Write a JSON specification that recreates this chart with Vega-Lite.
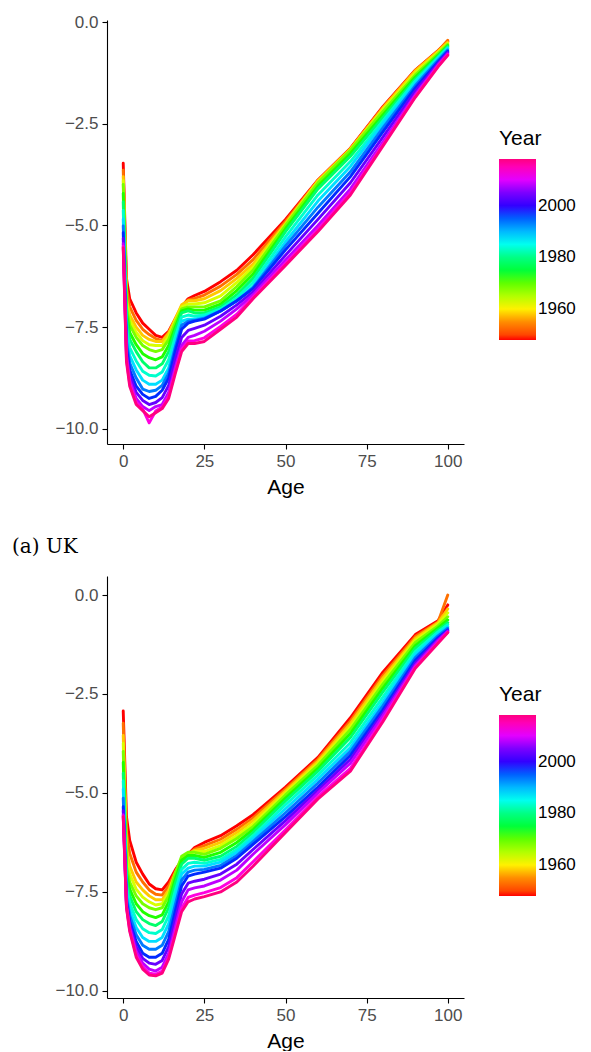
{
"$schema":"https://vega.github.io/schema/vega-lite/v6.json",
"background":"white",
"padding":{"left":12,"top":13,"right":5,"bottom":0},
"spacing":40,
"config":{
"view":{"stroke":null},
"axis":{"grid":false,"domainColor":"black","domainWidth":1.1,"tickColor":"black","tickWidth":1.1,"tickSize":5,"labelFont":"Liberation Sans","labelFontSize":17,"labelColor":"#4D4D4D","labelPadding":4,"titleFont":"Liberation Sans","titleFontSize":21,"titleFontWeight":"normal","titleColor":"black","titlePadding":7},
"legend":{"gradientLength":181,"gradientThickness":37,"gradientStrokeWidth":0,"titleFont":"Liberation Sans","titleFontSize":21,"titleFontWeight":"normal","titleColor":"black","titlePadding":10,"labelFont":"Liberation Sans","labelFontSize":17,"labelColor":"black","labelOffset":11}
},
"datasets":{
"uk":[
{"y":1948,"a":0,"v":-3.47},{"y":1948,"a":1,"v":-6.30},{"y":1948,"a":2,"v":-6.80},{"y":1948,"a":4,"v":-7.15},{"y":1948,"a":6,"v":-7.40},{"y":1948,"a":8,"v":-7.55},{"y":1948,"a":10,"v":-7.70},{"y":1948,"a":12,"v":-7.75},{"y":1948,"a":14,"v":-7.60},{"y":1948,"a":16,"v":-7.30},{"y":1948,"a":18,"v":-7.00},{"y":1948,"a":20,"v":-6.80},{"y":1948,"a":22,"v":-6.72},{"y":1948,"a":25,"v":-6.62},{"y":1948,"a":30,"v":-6.38},{"y":1948,"a":35,"v":-6.10},{"y":1948,"a":40,"v":-5.72},{"y":1948,"a":50,"v":-4.85},{"y":1948,"a":60,"v":-3.88},{"y":1948,"a":70,"v":-3.10},{"y":1948,"a":80,"v":-2.08},{"y":1948,"a":90,"v":-1.18},{"y":1948,"a":97,"v":-0.70},{"y":1948,"a":100,"v":-0.48},
{"y":1953,"a":0,"v":-3.64},{"y":1953,"a":1,"v":-6.55},{"y":1953,"a":2,"v":-7.00},{"y":1953,"a":4,"v":-7.33},{"y":1953,"a":6,"v":-7.55},{"y":1953,"a":8,"v":-7.68},{"y":1953,"a":10,"v":-7.78},{"y":1953,"a":12,"v":-7.83},{"y":1953,"a":14,"v":-7.63},{"y":1953,"a":16,"v":-7.30},{"y":1953,"a":18,"v":-6.98},{"y":1953,"a":20,"v":-6.83},{"y":1953,"a":22,"v":-6.79},{"y":1953,"a":25,"v":-6.71},{"y":1953,"a":30,"v":-6.49},{"y":1953,"a":35,"v":-6.20},{"y":1953,"a":40,"v":-5.84},{"y":1953,"a":50,"v":-4.90},{"y":1953,"a":60,"v":-3.89},{"y":1953,"a":70,"v":-3.11},{"y":1953,"a":80,"v":-2.10},{"y":1953,"a":90,"v":-1.19},{"y":1953,"a":97,"v":-0.71},{"y":1953,"a":100,"v":-0.45},
{"y":1958,"a":0,"v":-3.80},{"y":1958,"a":1,"v":-6.80},{"y":1958,"a":2,"v":-7.20},{"y":1958,"a":4,"v":-7.50},{"y":1958,"a":6,"v":-7.70},{"y":1958,"a":8,"v":-7.80},{"y":1958,"a":10,"v":-7.85},{"y":1958,"a":12,"v":-7.85},{"y":1958,"a":14,"v":-7.65},{"y":1958,"a":16,"v":-7.30},{"y":1958,"a":18,"v":-6.95},{"y":1958,"a":20,"v":-6.85},{"y":1958,"a":22,"v":-6.85},{"y":1958,"a":25,"v":-6.80},{"y":1958,"a":30,"v":-6.60},{"y":1958,"a":35,"v":-6.30},{"y":1958,"a":40,"v":-5.95},{"y":1958,"a":50,"v":-4.95},{"y":1958,"a":60,"v":-3.90},{"y":1958,"a":70,"v":-3.12},{"y":1958,"a":80,"v":-2.12},{"y":1958,"a":90,"v":-1.20},{"y":1958,"a":97,"v":-0.72},{"y":1958,"a":100,"v":-0.50},
{"y":1963,"a":0,"v":-3.90},{"y":1963,"a":1,"v":-6.90},{"y":1963,"a":2,"v":-7.33},{"y":1963,"a":4,"v":-7.63},{"y":1963,"a":6,"v":-7.83},{"y":1963,"a":8,"v":-7.93},{"y":1963,"a":10,"v":-7.95},{"y":1963,"a":12,"v":-7.95},{"y":1963,"a":14,"v":-7.73},{"y":1963,"a":16,"v":-7.35},{"y":1963,"a":18,"v":-7.00},{"y":1963,"a":20,"v":-6.93},{"y":1963,"a":22,"v":-6.93},{"y":1963,"a":25,"v":-6.90},{"y":1963,"a":30,"v":-6.73},{"y":1963,"a":35,"v":-6.40},{"y":1963,"a":40,"v":-6.03},{"y":1963,"a":50,"v":-4.98},{"y":1963,"a":60,"v":-3.93},{"y":1963,"a":70,"v":-3.14},{"y":1963,"a":80,"v":-2.16},{"y":1963,"a":90,"v":-1.25},{"y":1963,"a":97,"v":-0.75},{"y":1963,"a":100,"v":-0.53},
{"y":1968,"a":0,"v":-3.99},{"y":1968,"a":1,"v":-7.00},{"y":1968,"a":2,"v":-7.45},{"y":1968,"a":4,"v":-7.75},{"y":1968,"a":6,"v":-7.95},{"y":1968,"a":8,"v":-8.05},{"y":1968,"a":10,"v":-8.10},{"y":1968,"a":12,"v":-8.05},{"y":1968,"a":14,"v":-7.80},{"y":1968,"a":16,"v":-7.40},{"y":1968,"a":18,"v":-7.05},{"y":1968,"a":20,"v":-7.00},{"y":1968,"a":22,"v":-7.00},{"y":1968,"a":25,"v":-7.00},{"y":1968,"a":30,"v":-6.85},{"y":1968,"a":35,"v":-6.50},{"y":1968,"a":40,"v":-6.10},{"y":1968,"a":50,"v":-5.00},{"y":1968,"a":60,"v":-3.95},{"y":1968,"a":70,"v":-3.15},{"y":1968,"a":80,"v":-2.20},{"y":1968,"a":90,"v":-1.30},{"y":1968,"a":97,"v":-0.78},{"y":1968,"a":100,"v":-0.55},
{"y":1973,"a":0,"v":-4.21},{"y":1973,"a":1,"v":-7.15},{"y":1973,"a":2,"v":-7.63},{"y":1973,"a":4,"v":-7.93},{"y":1973,"a":6,"v":-8.15},{"y":1973,"a":8,"v":-8.25},{"y":1973,"a":10,"v":-8.30},{"y":1973,"a":12,"v":-8.23},{"y":1973,"a":14,"v":-7.95},{"y":1973,"a":16,"v":-7.50},{"y":1973,"a":18,"v":-7.10},{"y":1973,"a":20,"v":-7.05},{"y":1973,"a":22,"v":-7.08},{"y":1973,"a":25,"v":-7.08},{"y":1973,"a":30,"v":-6.93},{"y":1973,"a":35,"v":-6.60},{"y":1973,"a":40,"v":-6.20},{"y":1973,"a":50,"v":-5.08},{"y":1973,"a":60,"v":-4.03},{"y":1973,"a":70,"v":-3.23},{"y":1973,"a":80,"v":-2.28},{"y":1973,"a":90,"v":-1.35},{"y":1973,"a":97,"v":-0.82},{"y":1973,"a":100,"v":-0.58},
{"y":1978,"a":0,"v":-4.42},{"y":1978,"a":1,"v":-7.30},{"y":1978,"a":2,"v":-7.80},{"y":1978,"a":4,"v":-8.10},{"y":1978,"a":6,"v":-8.35},{"y":1978,"a":8,"v":-8.50},{"y":1978,"a":10,"v":-8.50},{"y":1978,"a":12,"v":-8.40},{"y":1978,"a":14,"v":-8.10},{"y":1978,"a":16,"v":-7.60},{"y":1978,"a":18,"v":-7.15},{"y":1978,"a":20,"v":-7.10},{"y":1978,"a":22,"v":-7.15},{"y":1978,"a":25,"v":-7.15},{"y":1978,"a":30,"v":-7.00},{"y":1978,"a":35,"v":-6.70},{"y":1978,"a":40,"v":-6.30},{"y":1978,"a":50,"v":-5.15},{"y":1978,"a":60,"v":-4.10},{"y":1978,"a":70,"v":-3.30},{"y":1978,"a":80,"v":-2.35},{"y":1978,"a":90,"v":-1.40},{"y":1978,"a":97,"v":-0.85},{"y":1978,"a":100,"v":-0.60},
{"y":1983,"a":0,"v":-4.63},{"y":1983,"a":1,"v":-7.50},{"y":1983,"a":2,"v":-8.00},{"y":1983,"a":4,"v":-8.33},{"y":1983,"a":6,"v":-8.58},{"y":1983,"a":8,"v":-8.68},{"y":1983,"a":10,"v":-8.70},{"y":1983,"a":12,"v":-8.60},{"y":1983,"a":14,"v":-8.30},{"y":1983,"a":16,"v":-7.75},{"y":1983,"a":18,"v":-7.25},{"y":1983,"a":20,"v":-7.20},{"y":1983,"a":22,"v":-7.23},{"y":1983,"a":25,"v":-7.20},{"y":1983,"a":30,"v":-7.05},{"y":1983,"a":35,"v":-6.78},{"y":1983,"a":40,"v":-6.40},{"y":1983,"a":50,"v":-5.28},{"y":1983,"a":60,"v":-4.25},{"y":1983,"a":70,"v":-3.43},{"y":1983,"a":80,"v":-2.43},{"y":1983,"a":90,"v":-1.45},{"y":1983,"a":97,"v":-0.88},{"y":1983,"a":100,"v":-0.63},
{"y":1988,"a":0,"v":-4.84},{"y":1988,"a":1,"v":-7.70},{"y":1988,"a":2,"v":-8.20},{"y":1988,"a":4,"v":-8.55},{"y":1988,"a":6,"v":-8.80},{"y":1988,"a":8,"v":-8.90},{"y":1988,"a":10,"v":-8.90},{"y":1988,"a":12,"v":-8.80},{"y":1988,"a":14,"v":-8.50},{"y":1988,"a":16,"v":-7.90},{"y":1988,"a":18,"v":-7.35},{"y":1988,"a":20,"v":-7.30},{"y":1988,"a":22,"v":-7.30},{"y":1988,"a":25,"v":-7.25},{"y":1988,"a":30,"v":-7.10},{"y":1988,"a":35,"v":-6.85},{"y":1988,"a":40,"v":-6.50},{"y":1988,"a":50,"v":-5.40},{"y":1988,"a":60,"v":-4.40},{"y":1988,"a":70,"v":-3.55},{"y":1988,"a":80,"v":-2.50},{"y":1988,"a":90,"v":-1.50},{"y":1988,"a":97,"v":-0.90},{"y":1988,"a":100,"v":-0.65},
{"y":1993,"a":0,"v":-5.01},{"y":1993,"a":1,"v":-7.85},{"y":1993,"a":2,"v":-8.38},{"y":1993,"a":4,"v":-8.75},{"y":1993,"a":6,"v":-9.02},{"y":1993,"a":8,"v":-9.08},{"y":1993,"a":10,"v":-9.05},{"y":1993,"a":12,"v":-8.93},{"y":1993,"a":14,"v":-8.63},{"y":1993,"a":16,"v":-8.00},{"y":1993,"a":18,"v":-7.45},{"y":1993,"a":20,"v":-7.35},{"y":1993,"a":22,"v":-7.33},{"y":1993,"a":25,"v":-7.28},{"y":1993,"a":30,"v":-7.10},{"y":1993,"a":35,"v":-6.85},{"y":1993,"a":40,"v":-6.53},{"y":1993,"a":50,"v":-5.50},{"y":1993,"a":60,"v":-4.55},{"y":1993,"a":70,"v":-3.68},{"y":1993,"a":80,"v":-2.60},{"y":1993,"a":90,"v":-1.56},{"y":1993,"a":97,"v":-0.94},{"y":1993,"a":100,"v":-0.69},
{"y":1998,"a":0,"v":-5.18},{"y":1998,"a":1,"v":-8.00},{"y":1998,"a":2,"v":-8.55},{"y":1998,"a":4,"v":-8.95},{"y":1998,"a":6,"v":-9.15},{"y":1998,"a":8,"v":-9.25},{"y":1998,"a":10,"v":-9.20},{"y":1998,"a":12,"v":-9.05},{"y":1998,"a":14,"v":-8.75},{"y":1998,"a":16,"v":-8.10},{"y":1998,"a":18,"v":-7.55},{"y":1998,"a":20,"v":-7.40},{"y":1998,"a":22,"v":-7.35},{"y":1998,"a":25,"v":-7.30},{"y":1998,"a":30,"v":-7.10},{"y":1998,"a":35,"v":-6.85},{"y":1998,"a":40,"v":-6.55},{"y":1998,"a":50,"v":-5.60},{"y":1998,"a":60,"v":-4.70},{"y":1998,"a":70,"v":-3.80},{"y":1998,"a":80,"v":-2.70},{"y":1998,"a":90,"v":-1.62},{"y":1998,"a":97,"v":-0.98},{"y":1998,"a":100,"v":-0.72},
{"y":2003,"a":0,"v":-5.32},{"y":2003,"a":1,"v":-8.10},{"y":2003,"a":2,"v":-8.68},{"y":2003,"a":4,"v":-9.10},{"y":2003,"a":6,"v":-9.30},{"y":2003,"a":8,"v":-9.40},{"y":2003,"a":10,"v":-9.35},{"y":2003,"a":12,"v":-9.23},{"y":2003,"a":14,"v":-8.93},{"y":2003,"a":16,"v":-8.30},{"y":2003,"a":18,"v":-7.75},{"y":2003,"a":20,"v":-7.58},{"y":2003,"a":22,"v":-7.53},{"y":2003,"a":25,"v":-7.45},{"y":2003,"a":30,"v":-7.23},{"y":2003,"a":35,"v":-6.95},{"y":2003,"a":40,"v":-6.63},{"y":2003,"a":50,"v":-5.73},{"y":2003,"a":60,"v":-4.85},{"y":2003,"a":70,"v":-3.95},{"y":2003,"a":80,"v":-2.83},{"y":2003,"a":90,"v":-1.70},{"y":2003,"a":97,"v":-1.02},{"y":2003,"a":100,"v":-0.75},
{"y":2008,"a":0,"v":-5.45},{"y":2008,"a":1,"v":-8.20},{"y":2008,"a":2,"v":-8.80},{"y":2008,"a":4,"v":-9.25},{"y":2008,"a":6,"v":-9.45},{"y":2008,"a":8,"v":-9.55},{"y":2008,"a":10,"v":-9.45},{"y":2008,"a":12,"v":-9.40},{"y":2008,"a":14,"v":-9.10},{"y":2008,"a":16,"v":-8.50},{"y":2008,"a":18,"v":-7.95},{"y":2008,"a":20,"v":-7.75},{"y":2008,"a":22,"v":-7.70},{"y":2008,"a":25,"v":-7.60},{"y":2008,"a":30,"v":-7.35},{"y":2008,"a":35,"v":-7.05},{"y":2008,"a":40,"v":-6.70},{"y":2008,"a":50,"v":-5.85},{"y":2008,"a":60,"v":-5.00},{"y":2008,"a":70,"v":-4.10},{"y":2008,"a":80,"v":-2.95},{"y":2008,"a":90,"v":-1.78},{"y":2008,"a":97,"v":-1.05},{"y":2008,"a":100,"v":-0.78},
{"y":2013,"a":0,"v":-5.51},{"y":2013,"a":1,"v":-8.29},{"y":2013,"a":2,"v":-8.89},{"y":2013,"a":4,"v":-9.34},{"y":2013,"a":6,"v":-9.51},{"y":2013,"a":8,"v":-9.85},{"y":2013,"a":10,"v":-9.56},{"y":2013,"a":12,"v":-9.46},{"y":2013,"a":14,"v":-9.19},{"y":2013,"a":16,"v":-8.59},{"y":2013,"a":18,"v":-8.04},{"y":2013,"a":20,"v":-7.84},{"y":2013,"a":22,"v":-7.83},{"y":2013,"a":25,"v":-7.76},{"y":2013,"a":30,"v":-7.48},{"y":2013,"a":35,"v":-7.18},{"y":2013,"a":40,"v":-6.76},{"y":2013,"a":50,"v":-5.93},{"y":2013,"a":60,"v":-5.09},{"y":2013,"a":70,"v":-4.19},{"y":2013,"a":80,"v":-3.01},{"y":2013,"a":90,"v":-1.82},{"y":2013,"a":97,"v":-1.08},{"y":2013,"a":100,"v":-0.80},
{"y":2018,"a":0,"v":-5.55},{"y":2018,"a":1,"v":-8.35},{"y":2018,"a":2,"v":-8.95},{"y":2018,"a":4,"v":-9.40},{"y":2018,"a":6,"v":-9.55},{"y":2018,"a":8,"v":-9.70},{"y":2018,"a":10,"v":-9.60},{"y":2018,"a":12,"v":-9.50},{"y":2018,"a":14,"v":-9.25},{"y":2018,"a":16,"v":-8.65},{"y":2018,"a":18,"v":-8.10},{"y":2018,"a":20,"v":-7.90},{"y":2018,"a":22,"v":-7.90},{"y":2018,"a":25,"v":-7.85},{"y":2018,"a":30,"v":-7.55},{"y":2018,"a":35,"v":-7.25},{"y":2018,"a":40,"v":-6.80},{"y":2018,"a":50,"v":-5.98},{"y":2018,"a":60,"v":-5.15},{"y":2018,"a":70,"v":-4.25},{"y":2018,"a":80,"v":-3.05},{"y":2018,"a":90,"v":-1.85},{"y":2018,"a":97,"v":-1.10},{"y":2018,"a":100,"v":-0.82}
],
"fr":[
{"y":1948,"a":0,"v":-2.93},{"y":1948,"a":1,"v":-5.60},{"y":1948,"a":2,"v":-6.20},{"y":1948,"a":4,"v":-6.75},{"y":1948,"a":6,"v":-7.05},{"y":1948,"a":8,"v":-7.30},{"y":1948,"a":10,"v":-7.42},{"y":1948,"a":12,"v":-7.45},{"y":1948,"a":14,"v":-7.25},{"y":1948,"a":16,"v":-6.95},{"y":1948,"a":18,"v":-6.70},{"y":1948,"a":20,"v":-6.55},{"y":1948,"a":22,"v":-6.38},{"y":1948,"a":25,"v":-6.25},{"y":1948,"a":30,"v":-6.08},{"y":1948,"a":35,"v":-5.83},{"y":1948,"a":40,"v":-5.55},{"y":1948,"a":50,"v":-4.85},{"y":1948,"a":60,"v":-4.10},{"y":1948,"a":70,"v":-3.10},{"y":1948,"a":80,"v":-1.95},{"y":1948,"a":90,"v":-1.00},{"y":1948,"a":97,"v":-0.65},{"y":1948,"a":100,"v":-0.25},
{"y":1953,"a":0,"v":-3.24},{"y":1953,"a":1,"v":-6.00},{"y":1953,"a":2,"v":-6.53},{"y":1953,"a":4,"v":-7.00},{"y":1953,"a":6,"v":-7.25},{"y":1953,"a":8,"v":-7.45},{"y":1953,"a":10,"v":-7.56},{"y":1953,"a":12,"v":-7.58},{"y":1953,"a":14,"v":-7.35},{"y":1953,"a":16,"v":-7.00},{"y":1953,"a":18,"v":-6.70},{"y":1953,"a":20,"v":-6.55},{"y":1953,"a":22,"v":-6.42},{"y":1953,"a":25,"v":-6.33},{"y":1953,"a":30,"v":-6.17},{"y":1953,"a":35,"v":-5.92},{"y":1953,"a":40,"v":-5.63},{"y":1953,"a":50,"v":-4.90},{"y":1953,"a":60,"v":-4.15},{"y":1953,"a":70,"v":-3.18},{"y":1953,"a":80,"v":-2.03},{"y":1953,"a":90,"v":-1.05},{"y":1953,"a":97,"v":-0.68},{"y":1953,"a":100,"v":0.00},
{"y":1958,"a":0,"v":-3.55},{"y":1958,"a":1,"v":-6.40},{"y":1958,"a":2,"v":-6.85},{"y":1958,"a":4,"v":-7.25},{"y":1958,"a":6,"v":-7.45},{"y":1958,"a":8,"v":-7.60},{"y":1958,"a":10,"v":-7.70},{"y":1958,"a":12,"v":-7.70},{"y":1958,"a":14,"v":-7.45},{"y":1958,"a":16,"v":-7.05},{"y":1958,"a":18,"v":-6.70},{"y":1958,"a":20,"v":-6.55},{"y":1958,"a":22,"v":-6.45},{"y":1958,"a":25,"v":-6.40},{"y":1958,"a":30,"v":-6.25},{"y":1958,"a":35,"v":-6.00},{"y":1958,"a":40,"v":-5.70},{"y":1958,"a":50,"v":-4.95},{"y":1958,"a":60,"v":-4.20},{"y":1958,"a":70,"v":-3.25},{"y":1958,"a":80,"v":-2.10},{"y":1958,"a":90,"v":-1.10},{"y":1958,"a":97,"v":-0.70},{"y":1958,"a":100,"v":-0.35},
{"y":1963,"a":0,"v":-3.75},{"y":1963,"a":1,"v":-6.63},{"y":1963,"a":2,"v":-7.05},{"y":1963,"a":4,"v":-7.43},{"y":1963,"a":6,"v":-7.63},{"y":1963,"a":8,"v":-7.75},{"y":1963,"a":10,"v":-7.83},{"y":1963,"a":12,"v":-7.80},{"y":1963,"a":14,"v":-7.53},{"y":1963,"a":16,"v":-7.05},{"y":1963,"a":18,"v":-6.65},{"y":1963,"a":20,"v":-6.53},{"y":1963,"a":22,"v":-6.48},{"y":1963,"a":25,"v":-6.48},{"y":1963,"a":30,"v":-6.33},{"y":1963,"a":35,"v":-6.08},{"y":1963,"a":40,"v":-5.78},{"y":1963,"a":50,"v":-5.00},{"y":1963,"a":60,"v":-4.25},{"y":1963,"a":70,"v":-3.33},{"y":1963,"a":80,"v":-2.18},{"y":1963,"a":90,"v":-1.15},{"y":1963,"a":97,"v":-0.74},{"y":1963,"a":100,"v":-0.45},
{"y":1968,"a":0,"v":-3.95},{"y":1968,"a":1,"v":-6.85},{"y":1968,"a":2,"v":-7.25},{"y":1968,"a":4,"v":-7.60},{"y":1968,"a":6,"v":-7.80},{"y":1968,"a":8,"v":-7.90},{"y":1968,"a":10,"v":-7.95},{"y":1968,"a":12,"v":-7.90},{"y":1968,"a":14,"v":-7.60},{"y":1968,"a":16,"v":-7.05},{"y":1968,"a":18,"v":-6.60},{"y":1968,"a":20,"v":-6.50},{"y":1968,"a":22,"v":-6.50},{"y":1968,"a":25,"v":-6.55},{"y":1968,"a":30,"v":-6.40},{"y":1968,"a":35,"v":-6.15},{"y":1968,"a":40,"v":-5.85},{"y":1968,"a":50,"v":-5.05},{"y":1968,"a":60,"v":-4.30},{"y":1968,"a":70,"v":-3.40},{"y":1968,"a":80,"v":-2.25},{"y":1968,"a":90,"v":-1.20},{"y":1968,"a":97,"v":-0.78},{"y":1968,"a":100,"v":-0.55},
{"y":1973,"a":0,"v":-4.23},{"y":1973,"a":1,"v":-7.03},{"y":1973,"a":2,"v":-7.43},{"y":1973,"a":4,"v":-7.80},{"y":1973,"a":6,"v":-8.00},{"y":1973,"a":8,"v":-8.10},{"y":1973,"a":10,"v":-8.15},{"y":1973,"a":12,"v":-8.08},{"y":1973,"a":14,"v":-7.75},{"y":1973,"a":16,"v":-7.18},{"y":1973,"a":18,"v":-6.70},{"y":1973,"a":20,"v":-6.58},{"y":1973,"a":22,"v":-6.58},{"y":1973,"a":25,"v":-6.63},{"y":1973,"a":30,"v":-6.50},{"y":1973,"a":35,"v":-6.25},{"y":1973,"a":40,"v":-5.93},{"y":1973,"a":50,"v":-5.13},{"y":1973,"a":60,"v":-4.38},{"y":1973,"a":70,"v":-3.50},{"y":1973,"a":80,"v":-2.35},{"y":1973,"a":90,"v":-1.28},{"y":1973,"a":97,"v":-0.83},{"y":1973,"a":100,"v":-0.63},
{"y":1978,"a":0,"v":-4.50},{"y":1978,"a":1,"v":-7.20},{"y":1978,"a":2,"v":-7.60},{"y":1978,"a":4,"v":-8.00},{"y":1978,"a":6,"v":-8.20},{"y":1978,"a":8,"v":-8.30},{"y":1978,"a":10,"v":-8.35},{"y":1978,"a":12,"v":-8.25},{"y":1978,"a":14,"v":-7.90},{"y":1978,"a":16,"v":-7.30},{"y":1978,"a":18,"v":-6.80},{"y":1978,"a":20,"v":-6.65},{"y":1978,"a":22,"v":-6.65},{"y":1978,"a":25,"v":-6.70},{"y":1978,"a":30,"v":-6.60},{"y":1978,"a":35,"v":-6.35},{"y":1978,"a":40,"v":-6.00},{"y":1978,"a":50,"v":-5.20},{"y":1978,"a":60,"v":-4.45},{"y":1978,"a":70,"v":-3.60},{"y":1978,"a":80,"v":-2.45},{"y":1978,"a":90,"v":-1.35},{"y":1978,"a":97,"v":-0.88},{"y":1978,"a":100,"v":-0.70},
{"y":1983,"a":0,"v":-4.70},{"y":1983,"a":1,"v":-7.35},{"y":1983,"a":2,"v":-7.78},{"y":1983,"a":4,"v":-8.20},{"y":1983,"a":6,"v":-8.43},{"y":1983,"a":8,"v":-8.53},{"y":1983,"a":10,"v":-8.55},{"y":1983,"a":12,"v":-8.45},{"y":1983,"a":14,"v":-8.10},{"y":1983,"a":16,"v":-7.48},{"y":1983,"a":18,"v":-6.93},{"y":1983,"a":20,"v":-6.78},{"y":1983,"a":22,"v":-6.75},{"y":1983,"a":25,"v":-6.78},{"y":1983,"a":30,"v":-6.68},{"y":1983,"a":35,"v":-6.43},{"y":1983,"a":40,"v":-6.08},{"y":1983,"a":50,"v":-5.30},{"y":1983,"a":60,"v":-4.55},{"y":1983,"a":70,"v":-3.73},{"y":1983,"a":80,"v":-2.58},{"y":1983,"a":90,"v":-1.43},{"y":1983,"a":97,"v":-0.93},{"y":1983,"a":100,"v":-0.75},
{"y":1988,"a":0,"v":-4.90},{"y":1988,"a":1,"v":-7.50},{"y":1988,"a":2,"v":-7.95},{"y":1988,"a":4,"v":-8.40},{"y":1988,"a":6,"v":-8.65},{"y":1988,"a":8,"v":-8.75},{"y":1988,"a":10,"v":-8.75},{"y":1988,"a":12,"v":-8.65},{"y":1988,"a":14,"v":-8.30},{"y":1988,"a":16,"v":-7.65},{"y":1988,"a":18,"v":-7.05},{"y":1988,"a":20,"v":-6.90},{"y":1988,"a":22,"v":-6.85},{"y":1988,"a":25,"v":-6.85},{"y":1988,"a":30,"v":-6.75},{"y":1988,"a":35,"v":-6.50},{"y":1988,"a":40,"v":-6.15},{"y":1988,"a":50,"v":-5.40},{"y":1988,"a":60,"v":-4.65},{"y":1988,"a":70,"v":-3.85},{"y":1988,"a":80,"v":-2.70},{"y":1988,"a":90,"v":-1.50},{"y":1988,"a":97,"v":-0.98},{"y":1988,"a":100,"v":-0.80},
{"y":1993,"a":0,"v":-5.13},{"y":1993,"a":1,"v":-7.63},{"y":1993,"a":2,"v":-8.10},{"y":1993,"a":4,"v":-8.58},{"y":1993,"a":6,"v":-8.85},{"y":1993,"a":8,"v":-8.95},{"y":1993,"a":10,"v":-8.95},{"y":1993,"a":12,"v":-8.85},{"y":1993,"a":14,"v":-8.50},{"y":1993,"a":16,"v":-7.83},{"y":1993,"a":18,"v":-7.20},{"y":1993,"a":20,"v":-7.00},{"y":1993,"a":22,"v":-6.95},{"y":1993,"a":25,"v":-6.93},{"y":1993,"a":30,"v":-6.83},{"y":1993,"a":35,"v":-6.58},{"y":1993,"a":40,"v":-6.23},{"y":1993,"a":50,"v":-5.50},{"y":1993,"a":60,"v":-4.75},{"y":1993,"a":70,"v":-3.95},{"y":1993,"a":80,"v":-2.80},{"y":1993,"a":90,"v":-1.58},{"y":1993,"a":97,"v":-1.03},{"y":1993,"a":100,"v":-0.84},
{"y":1998,"a":0,"v":-5.35},{"y":1998,"a":1,"v":-7.75},{"y":1998,"a":2,"v":-8.25},{"y":1998,"a":4,"v":-8.75},{"y":1998,"a":6,"v":-9.05},{"y":1998,"a":8,"v":-9.15},{"y":1998,"a":10,"v":-9.15},{"y":1998,"a":12,"v":-9.05},{"y":1998,"a":14,"v":-8.70},{"y":1998,"a":16,"v":-8.00},{"y":1998,"a":18,"v":-7.35},{"y":1998,"a":20,"v":-7.10},{"y":1998,"a":22,"v":-7.05},{"y":1998,"a":25,"v":-7.00},{"y":1998,"a":30,"v":-6.90},{"y":1998,"a":35,"v":-6.65},{"y":1998,"a":40,"v":-6.30},{"y":1998,"a":50,"v":-5.60},{"y":1998,"a":60,"v":-4.85},{"y":1998,"a":70,"v":-4.05},{"y":1998,"a":80,"v":-2.90},{"y":1998,"a":90,"v":-1.65},{"y":1998,"a":97,"v":-1.08},{"y":1998,"a":100,"v":-0.88},
{"y":2003,"a":0,"v":-5.45},{"y":2003,"a":1,"v":-7.80},{"y":2003,"a":2,"v":-8.33},{"y":2003,"a":4,"v":-8.88},{"y":2003,"a":6,"v":-9.18},{"y":2003,"a":8,"v":-9.30},{"y":2003,"a":10,"v":-9.33},{"y":2003,"a":12,"v":-9.23},{"y":2003,"a":14,"v":-8.88},{"y":2003,"a":16,"v":-8.20},{"y":2003,"a":18,"v":-7.55},{"y":2003,"a":20,"v":-7.28},{"y":2003,"a":22,"v":-7.23},{"y":2003,"a":25,"v":-7.18},{"y":2003,"a":30,"v":-7.05},{"y":2003,"a":35,"v":-6.80},{"y":2003,"a":40,"v":-6.43},{"y":2003,"a":50,"v":-5.70},{"y":2003,"a":60,"v":-4.93},{"y":2003,"a":70,"v":-4.15},{"y":2003,"a":80,"v":-2.98},{"y":2003,"a":90,"v":-1.72},{"y":2003,"a":97,"v":-1.12},{"y":2003,"a":100,"v":-0.90},
{"y":2008,"a":0,"v":-5.55},{"y":2008,"a":1,"v":-7.85},{"y":2008,"a":2,"v":-8.40},{"y":2008,"a":4,"v":-9.00},{"y":2008,"a":6,"v":-9.30},{"y":2008,"a":8,"v":-9.45},{"y":2008,"a":10,"v":-9.50},{"y":2008,"a":12,"v":-9.40},{"y":2008,"a":14,"v":-9.05},{"y":2008,"a":16,"v":-8.40},{"y":2008,"a":18,"v":-7.75},{"y":2008,"a":20,"v":-7.45},{"y":2008,"a":22,"v":-7.40},{"y":2008,"a":25,"v":-7.35},{"y":2008,"a":30,"v":-7.20},{"y":2008,"a":35,"v":-6.95},{"y":2008,"a":40,"v":-6.55},{"y":2008,"a":50,"v":-5.80},{"y":2008,"a":60,"v":-5.00},{"y":2008,"a":70,"v":-4.25},{"y":2008,"a":80,"v":-3.05},{"y":2008,"a":90,"v":-1.78},{"y":2008,"a":97,"v":-1.15},{"y":2008,"a":100,"v":-0.92},
{"y":2013,"a":0,"v":-5.58},{"y":2013,"a":1,"v":-7.88},{"y":2013,"a":2,"v":-8.46},{"y":2013,"a":4,"v":-9.09},{"y":2013,"a":6,"v":-9.39},{"y":2013,"a":8,"v":-9.55},{"y":2013,"a":10,"v":-9.58},{"y":2013,"a":12,"v":-9.50},{"y":2013,"a":14,"v":-9.14},{"y":2013,"a":16,"v":-8.53},{"y":2013,"a":18,"v":-7.91},{"y":2013,"a":20,"v":-7.64},{"y":2013,"a":22,"v":-7.58},{"y":2013,"a":25,"v":-7.52},{"y":2013,"a":30,"v":-7.39},{"y":2013,"a":35,"v":-7.14},{"y":2013,"a":40,"v":-6.74},{"y":2013,"a":50,"v":-5.93},{"y":2013,"a":60,"v":-5.09},{"y":2013,"a":70,"v":-4.38},{"y":2013,"a":80,"v":-3.14},{"y":2013,"a":90,"v":-1.82},{"y":2013,"a":97,"v":-1.19},{"y":2013,"a":100,"v":-0.94},
{"y":2018,"a":0,"v":-5.60},{"y":2018,"a":1,"v":-7.90},{"y":2018,"a":2,"v":-8.50},{"y":2018,"a":4,"v":-9.15},{"y":2018,"a":6,"v":-9.45},{"y":2018,"a":8,"v":-9.60},{"y":2018,"a":10,"v":-9.62},{"y":2018,"a":12,"v":-9.55},{"y":2018,"a":14,"v":-9.20},{"y":2018,"a":16,"v":-8.60},{"y":2018,"a":18,"v":-8.00},{"y":2018,"a":20,"v":-7.75},{"y":2018,"a":22,"v":-7.68},{"y":2018,"a":25,"v":-7.62},{"y":2018,"a":30,"v":-7.50},{"y":2018,"a":35,"v":-7.25},{"y":2018,"a":40,"v":-6.85},{"y":2018,"a":50,"v":-6.00},{"y":2018,"a":60,"v":-5.15},{"y":2018,"a":70,"v":-4.45},{"y":2018,"a":80,"v":-3.20},{"y":2018,"a":90,"v":-1.85},{"y":2018,"a":97,"v":-1.22},{"y":2018,"a":100,"v":-0.95}
]
},
"vconcat":[
{
"data":{"name":"uk"},
"width":357,"height":424,
"mark":{"type":"line","strokeWidth":2.9,"strokeJoin":"round","strokeCap":"round"},
"encoding":{
"x":{"field":"a","type":"quantitative","scale":{"domain":[-5,105],"nice":false,"zero":false},"axis":{"values":[0,25,50,75,100],"title":"Age"}},
"y":{"field":"v","type":"quantitative","scale":{"domain":[-10.37,0.05],"nice":false,"zero":false},"axis":{"values":[0,-2.5,-5,-7.5,-10],"format":".1f","labelExpr":"replace(datum.label, '-', '−')","title":null}},
"color":{"field":"y","type":"quantitative","scale":{"domain":[1948,2018],"range":["#FF0000","#FF8000","#FFFF00","#80FF00","#00FF00","#00FF80","#00FFFF","#0080FF","#0000FF","#8000FF","#FF00FF","#FF0080"]},"legend":{"title":"Year","values":[1960,1980,2000],"format":"d","orient":"none","legendX":392,"legendY":108}},
"detail":{"field":"y","type":"nominal"}
}
},
{
"data":{"name":"fr"},
"width":357,"height":422,
"title":{"text":"(a) UK","anchor":"start","frame":"group","dx":-95,"offset":19,"font":"DejaVu Serif","fontSize":20,"fontWeight":"normal","color":"black"},
"mark":{"type":"line","strokeWidth":2.9,"strokeJoin":"round","strokeCap":"round"},
"encoding":{
"x":{"field":"a","type":"quantitative","scale":{"domain":[-5,105],"nice":false,"zero":false},"axis":{"values":[0,25,50,75,100],"title":"Age"}},
"y":{"field":"v","type":"quantitative","scale":{"domain":[-10.18,0.48],"nice":false,"zero":false},"axis":{"values":[0,-2.5,-5,-7.5,-10],"format":".1f","labelExpr":"replace(datum.label, '-', '−')","title":null}},
"color":{"field":"y","type":"quantitative","scale":{"domain":[1948,2018],"range":["#FF0000","#FF8000","#FFFF00","#80FF00","#00FF00","#00FF80","#00FFFF","#0080FF","#0000FF","#8000FF","#FF00FF","#FF0080"]},"legend":{"title":"Year","values":[1960,1980,2000],"format":"d","orient":"none","legendX":392,"legendY":108}},
"detail":{"field":"y","type":"nominal"}
}
}
],
"resolve":{"scale":{"color":"independent"},"legend":{"color":"independent"}}
}
